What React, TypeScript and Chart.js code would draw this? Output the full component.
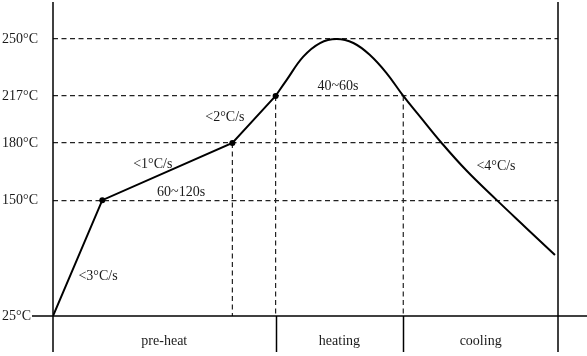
import React, { useEffect, useRef } from 'react';
import { Chart, registerables, LinearScale } from 'chart.js';

// ---- data ----
const tickTemps = [25, 150, 180, 217, 250];
const preheatTimes = [0, 24.4, 88.8, 110.2];
const preheatTemps = [25, 150, 180, 217];
const reflowTimes = [110.2, 115.7, 123.9, 132.2, 140.4, 148.7, 156.9, 165.2, 173.4, 181.7, 192.4, 204.8, 219.7, 234.5, 248.5];
const reflowTemps = [217, 226.3, 239.8, 247.7, 250, 247.7, 240.7, 230.1, 217, 200.7, 180, 165.4, 150, 119.5, 90.7];
const dropTimes = [88.8, 110.2, 173.4];
const dropTemps = [180, 217, 217];
const phaseNames = ['pre-heat', 'heating', 'cooling'];
const phaseBounds = [0, 110.2, 173.4, 250];
const noteTexts = ['<3°C/s', '<1°C/s', '60~120s', '<2°C/s', '40~60s', '<4°C/s'];
const noteTimes = [22.3, 49.4, 63.4, 85.1, 141.1, 219.3];
const noteTemps = [67.3, 168.9, 154.2, 200.5, 222.4, 167.9];

// ---- schematic (non-uniform) temperature axis layout ----
const tickShares = [0, 0.369, 0.551, 0.701, 0.882];

function warp(v: number): number {
  const n = tickTemps.length;
  let i = 0;
  if (v <= tickTemps[0]) i = 0;
  else if (v >= tickTemps[n - 1]) i = n - 2;
  else {
    while (i < n - 2 && v > tickTemps[i + 1]) i++;
  }
  const t0 = tickTemps[i], t1 = tickTemps[i + 1];
  const s0 = tickShares[i], s1 = tickShares[i + 1];
  return s0 + ((v - t0) / (t1 - t0)) * (s1 - s0);
}
function unwarp(s: number): number {
  const n = tickShares.length;
  let i = 0;
  if (s <= tickShares[0]) i = 0;
  else if (s >= tickShares[n - 1]) i = n - 2;
  else {
    while (i < n - 2 && s > tickShares[i + 1]) i++;
  }
  const t0 = tickTemps[i], t1 = tickTemps[i + 1];
  const s0 = tickShares[i], s1 = tickShares[i + 1];
  return t0 + ((s - s0) / (s1 - s0)) * (t1 - t0);
}

class BandScale extends LinearScale {
  static id = 'tempBands';
  static defaults = LinearScale.defaults;
  getPixelForValue(value: any) {
    if (value === null || value === undefined) return NaN;
    return this.getPixelForDecimal(warp(value));
  }
  getValueForPixel(pixel: number) {
    return unwarp(this.getDecimalForPixel(pixel));
  }
}

Chart.register(...registerables, BandScale as any);

const INK = '#1a1a1a';
const FONT = '14px "Liberation Serif", "Times New Roman", serif';

const overlay = {
  id: 'overlay',
  afterDatasetsDraw(chart: any) {
    const { ctx, chartArea, scales } = chart;
    const { left, right, top, bottom } = chartArea;
    const x = scales.x, y = scales.y;
    const seg = (x1: number, y1: number, x2: number, y2: number) => {
      ctx.beginPath();
      ctx.moveTo(x1, y1);
      ctx.lineTo(x2, y2);
      ctx.stroke();
    };
    ctx.save();
    ctx.strokeStyle = '#000';
    ctx.lineWidth = 1.5;
    ctx.setLineDash([]);
    // axes & frame
    seg(left - 21, bottom, chart.width, bottom);
    seg(left, top, left, bottom + 36);
    seg(right, top, right, bottom + 36);
    // phase dividers below the axis
    for (let i = 1; i < phaseBounds.length - 1; i++) {
      const px = Math.round(x.getPixelForValue(phaseBounds[i])) + 0.5;
      seg(px, bottom, px, bottom + 36);
    }
    ctx.fillStyle = INK;
    ctx.font = FONT;
    ctx.textAlign = 'center';
    ctx.textBaseline = 'middle';
    for (let i = 0; i < phaseNames.length; i++) {
      const a = x.getPixelForValue(phaseBounds[i]);
      const b = x.getPixelForValue(phaseBounds[i + 1]);
      ctx.fillText(phaseNames[i], (a + b) / 2, bottom + 25);
    }
    for (let i = 0; i < noteTexts.length; i++) {
      ctx.fillText(noteTexts[i], x.getPixelForValue(noteTimes[i]), y.getPixelForValue(noteTemps[i]));
    }
    ctx.restore();
  },
};

export default function App() {
  const ref = useRef<HTMLCanvasElement | null>(null);
  useEffect(() => {
    if (!ref.current) return;
    const pts = (xs: number[], ys: number[]) => xs.map((v, i) => ({ x: v, y: ys[i] }));
    const drops = dropTimes.map((t, i) => ({
      data: [{ x: t, y: dropTemps[i] }, { x: t, y: tickTemps[0] }],
      borderColor: '#222',
      borderWidth: 1.2,
      borderDash: [5, 3.5],
      pointRadius: 0,
      pointHoverRadius: 0,
      tension: 0,
    }));
    const chart = new Chart(ref.current, {
      type: 'line',
      data: {
        datasets: [
          {
            data: pts(preheatTimes, preheatTemps),
            borderColor: '#000',
            borderWidth: 2,
            tension: 0,
            pointRadius: (c: any) => (c.dataIndex === 0 ? 0 : 3),
            pointHoverRadius: 0,
            pointBackgroundColor: '#000',
            pointBorderColor: '#000',
            pointBorderWidth: 0,
          },
          {
            data: pts(reflowTimes, reflowTemps),
            borderColor: '#000',
            borderWidth: 2,
            tension: 0.4,
            pointRadius: 0,
            pointHoverRadius: 0,
          },
          ...drops,
        ] as any,
      },
      plugins: [overlay],
      options: {
        animation: false,
        responsive: false,
        maintainAspectRatio: false,
        events: [],
        layout: { autoPadding: false, padding: { top: 2, right: 29, bottom: 40, left: 0 } },
        plugins: { legend: { display: false }, tooltip: { enabled: false } },
        scales: {
          x: { type: 'linear', min: 0, max: 250, display: false },
          y: {
            type: 'tempBands' as any,
            min: 25,
            max: 271,
            afterBuildTicks: (s: any) => {
              s.ticks = tickTemps.map((v) => ({ value: v }));
            },
            afterFit: (s: any) => {
              s.width = 53;
              s.paddingTop = 0;
              s.paddingBottom = 0;
            },
            grid: {
              drawTicks: false,
              lineWidth: 1.2,
              color: (c: any) => (c.tick && c.tick.value === tickTemps[0] ? 'rgba(0,0,0,0)' : '#222'),
            },
            border: { display: false, dash: [5, 3.5] },
            ticks: {
              autoSkip: false,
              padding: 15,
              color: INK,
              font: { family: '"Liberation Serif", "Times New Roman", serif', size: 14 },
              callback: (v: any) => (v === tickTemps[0] ? v + '°C\u2002' : v + '°C'),
            },
          },
        },
      } as any,
    });
    return () => chart.destroy();
  }, []);
  return (
    <div style={{ position: 'fixed', left: 0, top: 0, width: 587, height: 356, background: '#fff' }}>
      <canvas ref={ref} width={587} height={356} style={{ display: 'block' }} />
    </div>
  );
}
